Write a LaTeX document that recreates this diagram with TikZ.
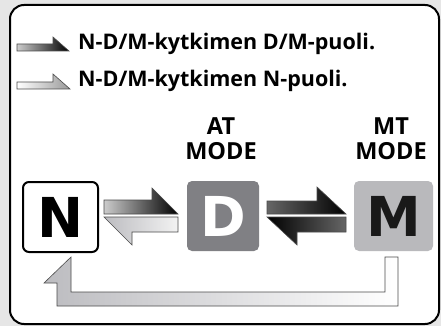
\documentclass[tikz,border=0pt]{standalone}
\usepackage{fontspec}
\setmainfont{Open Sans}
\newfontfamily\bigfont{DejaVu Sans}
\usepackage{xcolor}
\usetikzlibrary{positioning}
\definecolor{bggray}{HTML}{E6E6E6}
\definecolor{dbox}{HTML}{808084}
\definecolor{mbox}{HTML}{B9B9BC}
\definecolor{lshaft}{HTML}{BCBCC0}

\tikzset{
  modebox/.style={rounded corners=5pt, minimum width=72pt, minimum height=70pt,
    inner sep=0pt, font=\bigfont\bfseries\fontsize{55}{55}\selectfont},
  arrowshape/.style={draw=black!70, line width=0.6pt, line join=miter},
  lbl/.style={font=\bfseries\fontsize{21.5}{24}\selectfont, anchor=base west, inner sep=0pt},
  modelbl/.style={font=\bfseries\fontsize{23.5}{25}\selectfont, align=center, anchor=base, inner sep=0pt}
}

\begin{document}
\begin{tikzpicture}[x=1pt,y=-1pt]
  \useasboundingbox (0,0) rectangle (441,326);
  \fill[bggray] (0,0) rectangle (441,326);
  \draw[line width=2pt, fill=white, rounded corners=14pt] (10,5) rectangle (439,324);

  % legend
  \path[arrowshape, left color=black!20, right color=black] (17,44) -- (53,44) -- (53,37) -- (69,51) -- (17,51) -- cycle;
  \path[arrowshape, left color=white, right color=black!40] (17,82) -- (53,82) -- (53,74) -- (70,89) -- (17,89) -- cycle;
  \node[lbl] (legdm) at (78,49.5) {N-D/M-kytkimen D/M-puoli.};
  \node[lbl] (legn) at (78,86.5) {N-D/M-kytkimen N-puoli.};

  % modes
  \node[modelbl] (atlbl) at (221,159) {AT\\MODE};
  \node[modelbl] (mtlbl) at (391,159) {MT\\MODE};

  \node[modebox, draw, line width=2pt, fill=white, rounded corners=6pt, minimum width=75pt] (N) at (60.5,217) {N};
  \node[modebox, fill=dbox, text=white] (D) at (223,216) {D};
  \node[modebox, fill=mbox, minimum width=79pt, text=black!90] (M) at (393.5,216) {M};

  % N <-> D
  \path[arrowshape, left color=black!20, right color=black] (104,200) -- (152,200) -- (152,188) -- (178,214) -- (104,214) -- cycle;
  \path[arrowshape, left color=lshaft, right color=black!5] (178,217) -- (178,232) -- (132,232) -- (132,245) -- (104,217) -- cycle;
  % D <-> M
  \path[arrowshape, left color=black!60, right color=black] (267,201) -- (317,201) -- (317,187) -- (346,214) -- (267,214) -- cycle;
  \path[arrowshape, left color=black, right color=black!60] (346,217) -- (346,232) -- (297,232) -- (297,245) -- (267,217) -- cycle;

  % M -> N
  \path[arrowshape, left color=lshaft, middle color=lshaft!90, right color=white]
    (398,257) -- (398,306) -- (57,306) -- (57,283) -- (44,283) -- (71,257) -- (71,292) -- (385,292) -- (385,257) -- cycle;
\end{tikzpicture}
\end{document}
